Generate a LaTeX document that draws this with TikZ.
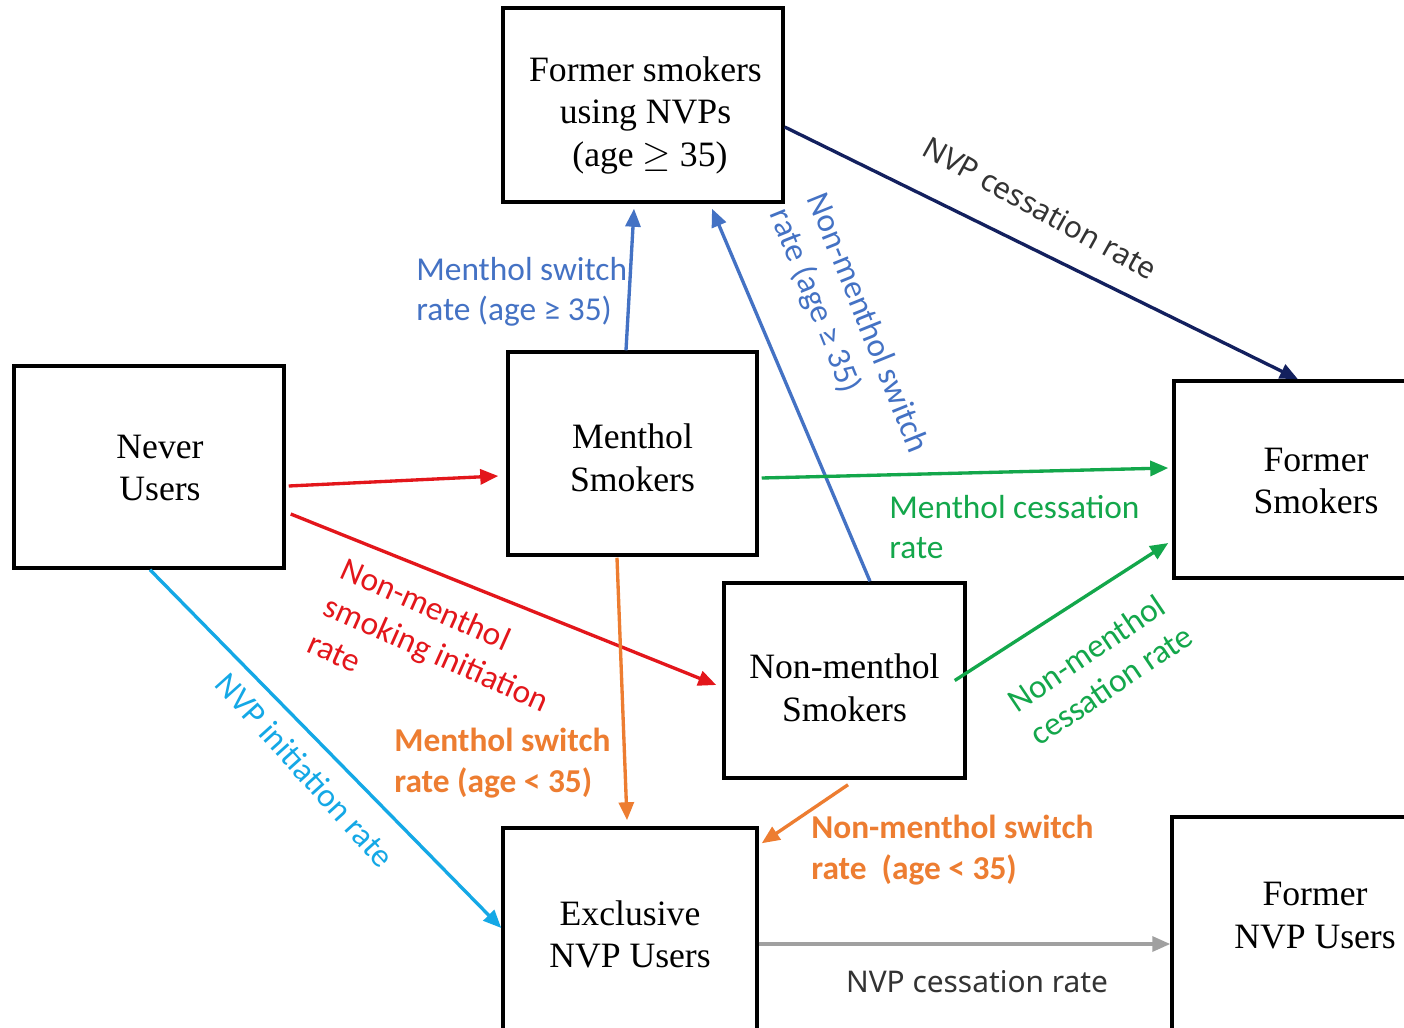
\documentclass[tikz,border=0pt]{standalone}
\usepackage{fontspec}
\setmainfont{Liberation Serif}
\newfontfamily\lblfont{Carlito}
\newfontfamily\nvpfont{Noto Sans}
\usetikzlibrary{arrows.meta,calc}
\definecolor{cred}{HTML}{E3161B}
\definecolor{cblue}{HTML}{4472C4}
\definecolor{cnavy}{HTML}{13205E}
\definecolor{cgreen}{HTML}{13A74B}
\definecolor{corange}{HTML}{ED7D31}
\definecolor{clblue}{HTML}{14A8E6}
\definecolor{cgray}{HTML}{A0A0A0}
\newcommand{\boxtext}[3]{\hspace*{#1}\raisebox{#2}[\height][\depth]{\begin{tabular}{@{}c@{}}#3\end{tabular}}}
\tikzset{
  box/.style={draw=black, line width=2pt, inner sep=0pt,
    font=\fontsize{20.3}{24}\selectfont},
  conn/.style={line width=1.9pt, -{Triangle[length=0.36cm,width=0.3cm]}},
  lbl/.style={font=\lblfont\fontsize{19}{23}\selectfont, inner sep=0pt},
  blbl/.style={font=\lblfont\bfseries\fontsize{19}{23}\selectfont, inner sep=0pt},
  nlbl/.style={font=\nvpfont\fontsize{17}{21}\selectfont, inner sep=0pt, text=black!80},
}
\begin{document}
\begin{tikzpicture}[x=0.02cm,y=-0.02cm]
\useasboundingbox (0,0) rectangle (1404,1028);
\clip (0,0) rectangle (1404,1028);
\fill[white] (0,0) rectangle (1404,1028);
% boxes
\node[box, minimum width=5.6cm, minimum height=3.88cm] (fsn) at (643,105) {\boxtext{0.1cm}{-0.21cm}{Former smokers\\using NVPs\\ \ (age $\geq$ 35)}};
\node[box, minimum width=5.4cm, minimum height=4.04cm] (never) at (149,467) {\boxtext{0.44cm}{-0.08cm}{Never\\Users}};
\node[box, minimum width=4.98cm, minimum height=4.06cm] (menthol) at (632.5,453.5) {\boxtext{0cm}{-0.16cm}{Menthol\\Smokers}};
\node[box, minimum width=4.82cm, minimum height=3.9cm] (nonm) at (844.5,680.5) {\boxtext{0cm}{-0.22cm}{Non-menthol\\Smokers}};
\node[box, minimum width=5.68cm, minimum height=3.94cm] (formersm) at (1316,479.5) {\boxtext{0cm}{-0.09cm}{Former\\Smokers}};
\node[box, minimum width=5.08cm, minimum height=4.28cm] (excl) at (630,935) {\boxtext{0cm}{-0.06cm}{Exclusive\\NVP Users}};
\node[box, minimum width=5.72cm, minimum height=4.76cm] (formernvp) at (1315,936) {\boxtext{0cm}{0.35cm}{Former\\NVP Users}};
% connectors
\draw[conn, cred] ($(never.east)+(3,19)$) -- ($(menthol.west)+(-8,22.5)$);
\draw[conn, cred] ($(never.east)+(5,47)$) -- ($(nonm.west)+(-6,4.5)$);
\draw[conn, clblue] ($(never.south)+(1,0)$) -- ($(excl.west)+(0,-7)$);
\draw[conn, cblue] ($(menthol.north)+(-6.5,0)$) -- ($(fsn.south)+(-9,5)$);
\draw[conn, cblue] ($(nonm.north)+(25.5,0)$) -- ($(fsn.south)+(69,5)$);
\draw[conn, cnavy] ($(fsn.east)+(0,22)$) -- ($(formersm.north)+(-18,0)$);
\draw[conn, cgreen] ($(menthol.east)+(3,24.5)$) -- ($(formersm.west)+(-4,-11.5)$);
\draw[conn, cgreen] ($(nonm.east)+(-12,0)$) -- ($(formersm.west)+(-4,63.5)$);
\draw[conn, corange] ($(menthol.south)+(-15.5,1)$) -- ($(excl.north)+(-3,-6)$);
\draw[conn, corange] ($(nonm.south)+(3.5,5)$) -- ($(excl.north east)+(3,17)$);
\draw[conn, cgray] ($(excl.east)+(0,9)$) -- ($(formernvp.west)+(0,8)$);
% labels
\node[lbl, text=cblue, align=left, anchor=west] (l1) at (416,292) {Menthol switch\\rate (age ≥ 35)};
\node[lbl, text=cblue, align=left, rotate=-68] (l2) at (848,331) {Non-menthol switch\\rate (age ≥ 35)};
\node[nlbl, rotate=-29] (l3) at (1040,208) {NVP cessation rate};
\node[lbl, text=cgreen, align=left, anchor=west] (l4) at (889,527) {Menthol cessation\\rate};
\node[lbl, text=cgreen, align=left, rotate=34] (l5) at (1100,668) {Non-menthol\\cessation rate};
\node[lbl, text=cred, align=left, rotate=-24] (l6) at (437,653) {Non-menthol\\smoking initiation\\rate};
\node[lbl, text=clblue, rotate=-48] (l7) at (305,770) {NVP initiation rate};
\node[blbl, text=corange, align=left, anchor=west] (l8) at (394,763) {Menthol switch\\rate (age < 35)};
\node[blbl, text=corange, align=left, anchor=west] (l9) at (811,850) {Non-menthol switch\\rate\ \ (age < 35)};
\node[nlbl] (l10) at (977,982) {NVP cessation rate};
\end{tikzpicture}
\end{document}
